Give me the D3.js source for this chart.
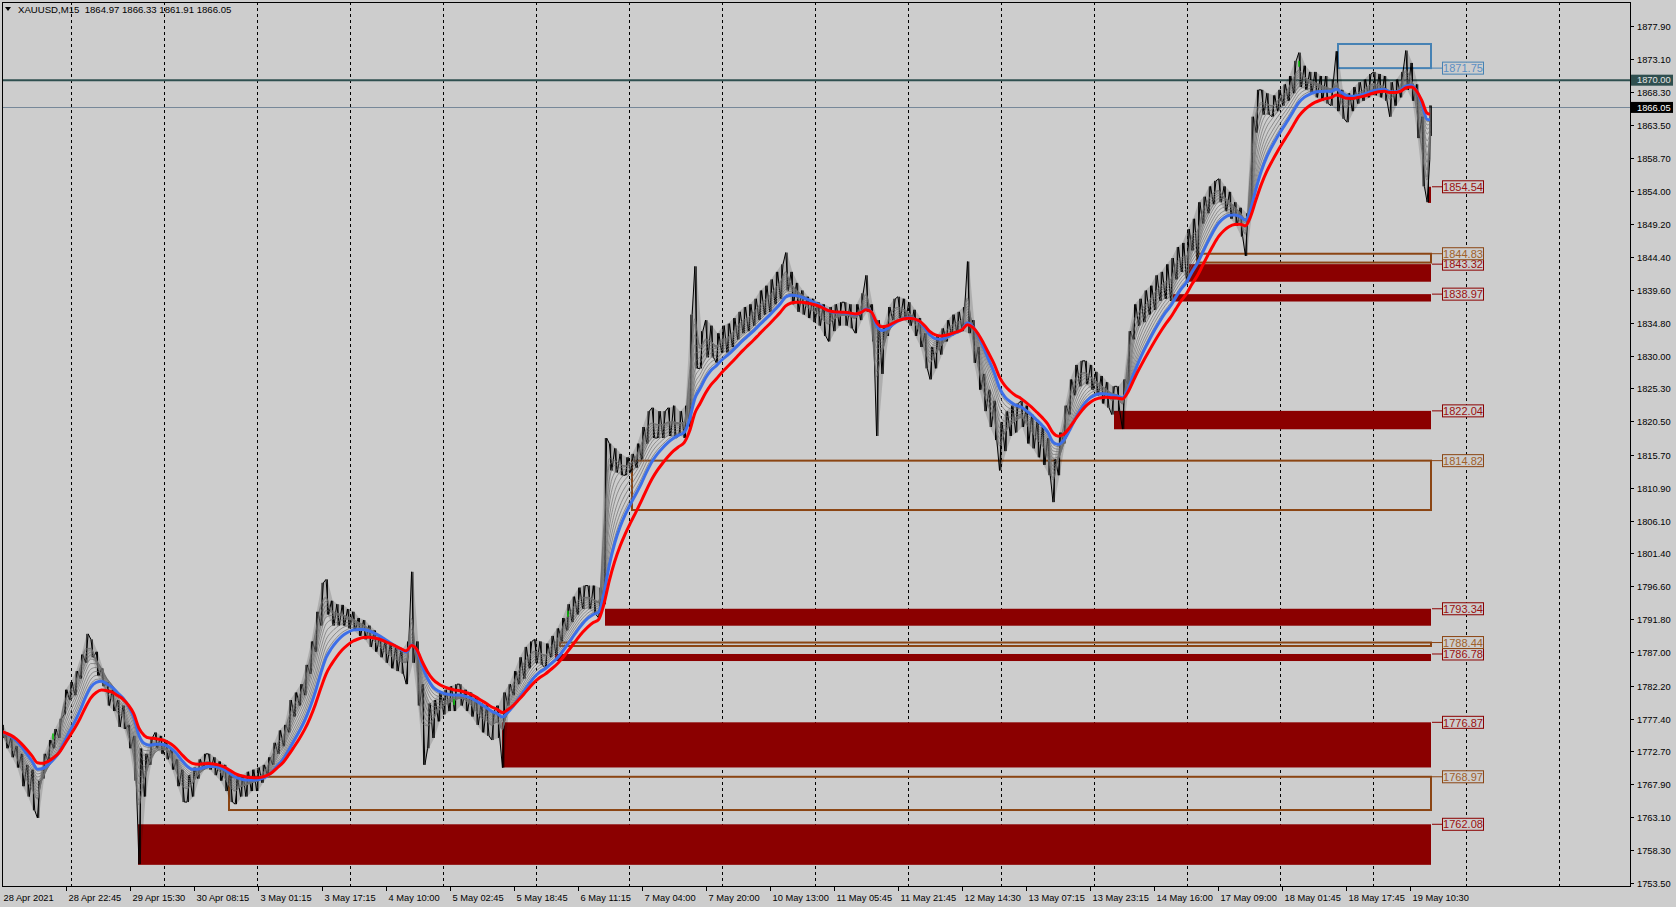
<!DOCTYPE html>
<html><head><meta charset="utf-8">
<script src="https://cdn.jsdelivr.net/npm/d3@7/dist/d3.min.js"></script>
<style>
html,body{margin:0;padding:0;background:#cdcdcd;overflow:hidden}
svg{display:block}
text{font-family:"Liberation Sans",Arial,sans-serif}
</style></head><body>
<svg id="chart" width="1676" height="907"></svg>
<script>
// ---------------- DATA ----------------
const symbolTitle = "XAUUSD,M15";
const lastOHLC = ["1864.97", "1866.33", "1861.91", "1866.05"];
const bidLine = 1866.05;
const hLine = 1870.00;

const priceTicks = [1877.90,1873.10,1868.30,1863.50,1858.70,1854.00,1849.20,1844.40,1839.60,1834.80,1830.00,1825.30,1820.50,1815.70,1810.90,1806.10,1801.40,1796.60,1791.80,1787.00,1782.20,1777.40,1772.70,1767.90,1763.10,1758.30,1753.50];

const timeLabels = ["28 Apr 2021","28 Apr 22:45","29 Apr 15:30","30 Apr 08:15","3 May 01:15","3 May 17:15","4 May 10:00","5 May 02:45","5 May 18:45","6 May 11:15","7 May 04:00","7 May 20:00","10 May 13:00","11 May 05:45","11 May 21:45","12 May 14:30","13 May 07:15","13 May 23:15","14 May 16:00","17 May 09:00","18 May 01:45","18 May 17:45","19 May 10:30"];
const timeLabelBars = [0,64,128,192,256,320,384,448,512,576,640,704,768,832,896,960,1024,1088,1152,1216,1280,1344,1408];
const dayStartBars = [69,162,255,348,441,534,627,720,813,906,999,1092,1185,1278,1371,1464,1557];

// price ranges, one sample per ~5.3 M15 bars (high / low of each group)
const sampleStep = 5.345;
const lastBar = 1428;
const lastClose = 1866.05;
const sampleHi = [1776.5,1775.4,1774.6,1773.4,1772.3,1770.7,1770.0,1768.4,1772.3,1774.3,1775.9,1777.4,1781.6,1782.7,1784.3,1786.7,1789.7,1788.9,1787.1,1784.7,
1782.7,1781.6,1780.1,1779.3,1776.5,1774.9,1773.1,1772.3,1774.6,1775.4,1774.9,1774.3,1773.1,1771.5,1770.0,1769.2,1770.3,1771.5,1772.3,1772.3,
1771.8,1771.2,1770.7,1769.7,1768.7,1769.2,1769.7,1770.0,1770.3,1770.7,1771.8,1773.9,1775.7,1776.5,1780.1,1781.2,1782.4,1785.2,1788.6,1792.9,
1797.1,1797.6,1794.5,1794.0,1793.9,1793.3,1792.9,1792.0,1791.7,1790.9,1790.2,1789.4,1788.6,1788.3,1787.8,1787.4,1788.6,1798.7,1788.6,1782.4,
1779.6,1780.1,1781.2,1781.6,1782.1,1782.4,1782.4,1781.6,1781.2,1780.5,1779.6,1779.3,1778.5,1779.3,1781.2,1782.4,1784.3,1786.3,1787.8,1788.6,
1788.9,1788.6,1788.3,1789.4,1790.5,1792.0,1794.0,1795.1,1796.4,1796.7,1796.7,1796.7,1796.4,1818.1,1817.3,1816.6,1815.8,1815.3,1815.8,1817.3,
1819.7,1822.0,1822.5,1822.0,1822.0,1822.5,1822.8,1822.0,1822.8,1836.0,1843.0,1833.6,1835.2,1834.4,1833.3,1834.4,1834.7,1835.5,1836.4,1837.1,
1837.5,1838.3,1839.5,1840.2,1841.1,1842.2,1843.3,1845.0,1842.2,1840.6,1839.5,1838.6,1838.3,1837.8,1837.5,1837.1,1837.5,1837.8,1837.8,1837.5,
1837.5,1839.1,1841.7,1837.5,1835.2,1834.4,1837.1,1838.3,1838.6,1838.3,1837.8,1836.7,1835.5,1833.3,1831.3,1832.9,1834.0,1835.2,1836.0,1836.4,
1837.1,1843.7,1835.2,1831.3,1827.4,1825.1,1823.5,1820.4,1822.0,1822.8,1823.1,1823.5,1822.8,1821.5,1820.4,1819.7,1818.1,1815.0,1818.9,1822.8,
1826.6,1828.7,1829.3,1829.3,1828.7,1827.7,1827.1,1826.2,1825.6,1825.6,1826.6,1833.6,1837.5,1838.3,1839.5,1840.2,1841.7,1842.2,1843.3,1844.2,
1845.8,1846.4,1848.4,1849.9,1852.3,1853.1,1854.6,1855.4,1855.7,1854.6,1853.8,1852.3,1851.5,1850.7,1864.7,1868.6,1868.6,1868.1,1867.8,1868.6,
1869.4,1870.6,1872.8,1874.0,1872.1,1871.2,1871.2,1870.6,1870.6,1870.1,1874.2,1868.6,1868.1,1869.0,1869.7,1870.1,1870.9,1871.2,1870.9,1870.6,
1869.7,1870.1,1871.2,1874.3,1872.5,1869.4,1864.7,1858.5,1866.33];
const sampleLo = [1774.6,1773.1,1771.8,1770.3,1767.6,1766.1,1764.1,1763.0,1768.7,1771.2,1773.1,1774.6,1778.0,1780.1,1780.8,1783.2,1785.5,1786.3,1783.6,1782.1,
1779.3,1778.5,1776.2,1775.9,1773.1,1768.4,1756.3,1766.1,1770.7,1773.1,1772.3,1771.5,1770.0,1767.6,1765.3,1765.3,1766.1,1768.7,1770.0,1770.0,
1769.2,1768.4,1766.9,1765.3,1765.0,1766.1,1766.1,1766.9,1766.9,1768.1,1769.2,1770.7,1772.3,1773.4,1775.4,1777.7,1779.3,1780.8,1783.9,1787.1,
1790.9,1792.5,1790.9,1790.9,1790.9,1790.5,1790.2,1789.4,1788.9,1787.8,1787.1,1786.3,1785.5,1784.7,1784.3,1783.9,1782.4,1785.5,1779.3,1770.7,
1773.1,1774.6,1777.0,1778.0,1778.5,1778.5,1779.3,1778.5,1777.7,1776.5,1775.4,1774.9,1774.3,1774.6,1770.3,1779.3,1780.8,1782.4,1783.2,1784.7,
1785.5,1785.2,1784.7,1786.3,1786.7,1788.6,1790.2,1791.4,1792.5,1793.3,1793.3,1792.5,1792.0,1794.0,1813.4,1813.1,1812.7,1812.7,1813.1,1813.8,
1815.0,1817.3,1818.1,1818.1,1818.1,1818.4,1818.1,1818.4,1818.1,1819.7,1828.2,1828.2,1829.8,1829.8,1829.0,1830.5,1830.5,1831.3,1832.4,1833.3,
1833.6,1834.4,1835.2,1836.0,1836.4,1837.5,1838.3,1839.5,1837.5,1836.4,1836.0,1835.5,1834.9,1834.4,1832.9,1832.1,1833.6,1834.4,1834.4,1834.0,
1833.3,1835.2,1836.4,1832.1,1818.4,1827.4,1832.9,1835.2,1835.5,1835.2,1834.4,1832.9,1831.3,1828.2,1826.6,1828.2,1830.2,1832.1,1832.9,1833.3,
1833.6,1833.3,1829.0,1825.1,1822.0,1819.7,1817.8,1813.4,1816.2,1818.4,1818.9,1819.7,1817.3,1816.6,1815.3,1814.2,1812.7,1808.8,1812.7,1817.3,
1821.5,1824.3,1825.6,1825.9,1825.1,1824.3,1823.1,1822.5,1821.5,1822.0,1819.4,1825.9,1832.4,1834.4,1834.9,1836.0,1836.7,1838.0,1838.3,1838.0,
1841.1,1842.2,1840.6,1845.3,1844.0,1849.2,1850.7,1852.0,1852.3,1851.0,1849.9,1848.9,1847.3,1844.5,1850.7,1862.4,1865.0,1865.0,1864.7,1865.5,
1866.3,1867.0,1868.1,1869.0,1868.6,1868.1,1867.5,1867.0,1866.6,1866.3,1865.5,1864.4,1863.9,1865.5,1866.6,1867.0,1867.5,1867.8,1867.5,1867.0,
1864.7,1866.3,1867.5,1868.6,1867.0,1861.6,1854.6,1852.3,1861.91];

// moving averages: grey fan, blue and red lines (EMA periods in M15 bars)
const emaPeriods = [3,5,8,11,14,18,22,27,32,37,42];
const bluePeriod = 46;
const redPeriod = 62;

// small green marks (bar, price)
const greenBars = [51, 452, 566, 1297];
const greenVals = [1774.8, 1779.8, 1792.6, 1872.4];

// zones
const zoneStart  = [136,227,500,553,558,603,630,1112,1171,1187,1195,1426,1336];
const zoneTop    = [1762.08,1768.97,1776.87,1786.78,1788.44,1793.34,1814.82,1822.04,1838.97,1843.32,1844.83,1854.54,1875.25];
const zoneBottom = [1756.2,1764.15,1770.32,1785.76,1787.94,1790.88,1807.66,1819.37,1837.9,1840.77,1843.55,1852.2,1871.75];
const zoneKind   = ["fill","box","fill","fill","box","fill","box","fill","fill","fill","box","fill","blue"];
const zoneLabel  = ["1762.08","1768.97","1776.87","1786.78","1788.44","1793.34","1814.82","1822.04","1838.97","1843.32","1844.83","1854.54","1871.75"];
const zoneLabelVal = [1762.08,1768.97,1776.87,1786.78,1788.44,1793.34,1814.82,1822.04,1838.97,1843.32,1844.83,1854.54,1871.75];
const zoneEnd = 1429;

// ---------------- DRAW ----------------
const W = 1676, H = 907;
const L = 2, R = 1630, T = 2, B = 886;
const svg = d3.select("#chart");
const x = d3.scaleLinear().domain([0, 1628]).range([L, R]);
const y = d3.scaleLinear().domain([1753.13, 1881.34]).range([B, T]);

svg.append("rect").attr("width", W).attr("height", H).attr("fill", "#cdcdcd");
svg.append("clipPath").attr("id","plotclip").append("rect")
  .attr("x", L).attr("y", T).attr("width", R-L).attr("height", B-T);
const plot = svg.append("g").attr("clip-path","url(#plotclip)");

// vertical grid
plot.selectAll("line.grid").data(dayStartBars).join("line")
  .attr("x1", d => Math.round(x(d))+0.5).attr("x2", d => Math.round(x(d))+0.5)
  .attr("y1", T).attr("y2", B)
  .attr("stroke", "#000").attr("stroke-width", 1).attr("stroke-dasharray", "3,3");

// zones
const colFill = "#8b0000", colBox = "#8b4513", colBlue = "#4682b4";
zoneStart.forEach((s, i) => {
  const k = zoneKind[i];
  const x0 = x(s), x1 = x(zoneEnd);
  const y0 = y(zoneTop[i]), y1 = y(zoneBottom[i]);
  if (k === "fill") {
    plot.append("rect").attr("x", x0).attr("y", y0).attr("width", x1-x0).attr("height", y1-y0).attr("fill", colFill);
  } else {
    plot.append("rect").attr("x", x0).attr("y", y0).attr("width", x1-x0).attr("height", y1-y0)
      .attr("fill", "none").attr("stroke", k === "box" ? colBox : colBlue).attr("stroke-width", 2);
  }
});

// horizontal lines
plot.append("line").attr("x1", L).attr("x2", R).attr("y1", y(hLine)).attr("y2", y(hLine))
  .attr("stroke", "#2f4f4f").attr("stroke-width", 2);
plot.append("line").attr("x1", L).attr("x2", R).attr("y1", Math.round(y(bidLine))+0.5).attr("y2", Math.round(y(bidLine))+0.5)
  .attr("stroke", "#778899").attr("stroke-width", 1);

// price scribble
const n = sampleHi.length;
const sBar = k => Math.min(lastBar, Math.max(0, k * sampleStep - 2));
const mids = sampleHi.map((h, k) => (h + sampleLo[k]) / 2);
const band = d3.area().x((d, k) => x(sBar(k) + sampleStep / 4)).y0(d => y(d[1])).y1(d => y(d[0]));
plot.append("path").attr("d", band(sampleHi.map((h, k) => [h, sampleLo[k]])))
  .attr("fill", "#000").attr("fill-opacity", 0.15);
const zz = [];
for (let k = 0; k < n; k++) {
  const b = sBar(k);
  const up = k < n - 1 ? mids[k+1] >= mids[k] : true;
  zz.push([b, up ? sampleLo[k] : sampleHi[k]]);
  zz.push([Math.min(lastBar, b + sampleStep / 2), up ? sampleHi[k] : sampleLo[k]]);
}
zz.push([lastBar, lastClose]);
const line = d3.line().x(d => x(d[0])).y(d => y(d[1]));
plot.append("path").attr("d", line(zz)).attr("fill", "none").attr("stroke", "#000").attr("stroke-width", 1);
for (let k = 0; k < n; k++) {
  const b = sBar(k) + sampleStep / 4;
  plot.append("line").attr("x1", x(b)).attr("x2", x(b)).attr("y1", y(sampleHi[k])).attr("y2", y(sampleLo[k]))
    .attr("stroke", "#000").attr("stroke-width", 1);
}

// EMA lines over group mid-prices
function ema(period) {
  const a = 1 - Math.pow(1 - 2 / (period + 1), sampleStep);
  let e = mids[0];
  return mids.map((v, k) => { if (k > 0) e = e + a * (v - e); return [sBar(k), e]; });
}
const smooth = d3.line().x(d => x(d[0])).y(d => y(d[1])).curve(d3.curveMonotoneX);
emaPeriods.forEach(p => {
  plot.append("path").attr("d", smooth(ema(p))).attr("fill","none").attr("stroke","#6e6e6e").attr("stroke-width",0.7);
});
plot.append("path").attr("d", smooth(ema(bluePeriod))).attr("fill","none").attr("stroke","#3d6fe8").attr("stroke-width",3);
plot.append("path").attr("d", smooth(ema(redPeriod))).attr("fill","none").attr("stroke","#ff0000").attr("stroke-width",3);

// green marks
greenBars.forEach((b, i) => {
  plot.append("line").attr("x1", x(b)).attr("x2", x(b)).attr("y1", y(greenVals[i]) - 3).attr("y2", y(greenVals[i]) + 3)
    .attr("stroke", "#00c000").attr("stroke-width", 1.5);
});

// border
svg.append("rect").attr("x", L+0.5).attr("y", T+0.5).attr("width", R-L).attr("height", B-T)
  .attr("fill","none").attr("stroke","#000").attr("stroke-width",1);

// zone labels (connector + box)
zoneStart.forEach((s, i) => {
  const k = zoneKind[i];
  const c = k === "fill" ? colFill : (k === "box" ? colBox : colBlue);
  const tc = k === "fill" ? "#9b1010" : (k === "box" ? "#a0602a" : "#5b8fc4");
  const yy = y(zoneLabelVal[i]);
  svg.append("line").attr("x1", x(zoneEnd)+1).attr("x2", 1442).attr("y1", yy).attr("y2", yy)
    .attr("stroke", c).attr("stroke-width", 1);
  svg.append("rect").attr("x", 1442.5).attr("y", yy-6).attr("width", 41).attr("height", 12)
    .attr("fill", "#cdcdcd").attr("stroke", c).attr("stroke-width", 1);
  svg.append("text").attr("x", 1463).attr("y", yy+4.2).attr("text-anchor","middle")
    .attr("font-size", 11).attr("fill", tc).text(zoneLabel[i]);
});

// right axis
const yAxis = svg.append("g");
priceTicks.forEach(v => {
  const yy = Math.round(y(v)) + 0.5;
  yAxis.append("line").attr("x1", R).attr("x2", R+4).attr("y1", yy).attr("y2", yy).attr("stroke","#000");
  yAxis.append("text").attr("x", R+7).attr("y", yy+3.3).attr("font-size", 9.3).attr("fill","#000").text(v.toFixed(2));
});
function priceBox(v, bg, fg) {
  const yy = y(v);
  svg.append("rect").attr("x", R+1).attr("y", yy-5.5).attr("width", 42).attr("height", 11).attr("fill", bg);
  svg.append("text").attr("x", R+7).attr("y", yy+3.3).attr("font-size", 9.3).attr("fill", fg).text(v.toFixed(2));
}
priceBox(hLine, "#2f4f4f", "#e6e6e6");
priceBox(bidLine, "#000", "#fff");

// bottom axis
timeLabelBars.forEach((b, i) => {
  const xx = Math.round(x(b)) + 0.5;
  if (i > 0) svg.append("line").attr("x1", xx).attr("x2", xx).attr("y1", B).attr("y2", B+5).attr("stroke","#000");
  svg.append("text").attr("x", xx + (i > 0 ? 2 : 1)).attr("y", 901).attr("font-size", 9.3).attr("fill","#000").text(timeLabels[i]);
});

// header
svg.append("path").attr("d", "M5,7 L11,7 L8,11 Z").attr("fill", "#000");
svg.append("text").attr("x", 18).attr("y", 13).attr("font-size", 9.6).attr("fill","#000")
  .style("white-space","pre").text(symbolTitle + "  " + lastOHLC.join(" "));
</script>
</body></html>
